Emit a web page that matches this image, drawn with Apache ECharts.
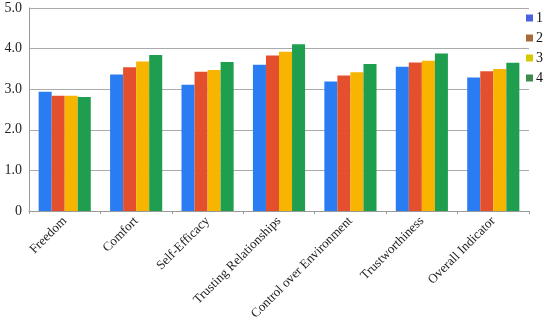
<!DOCTYPE html>
<html><head><meta charset="utf-8">
<script src="https://cdn.jsdelivr.net/npm/echarts@6/dist/echarts.min.js"></script>
<style>html,body{margin:0;padding:0;background:#fff}#c{width:550px;height:325px}</style>
</head><body><div id="c"></div>
<script>
const categories = ['Freedom','Comfort','Self-Efficacy','Trusting Relationships','Control over Environment','Trustworthiness','Overall Indicator'];
const seriesNames = ['1','2','3','4'];
const s1 = [2.94, 3.36, 3.11, 3.60, 3.19, 3.55, 3.29];
const s2 = [2.84, 3.54, 3.43, 3.83, 3.34, 3.66, 3.44];
const s3 = [2.84, 3.68, 3.47, 3.92, 3.42, 3.70, 3.50];
const s4 = [2.81, 3.84, 3.67, 4.11, 3.62, 3.88, 3.65];
const colors = ['#2a7cf2', '#e4502e', '#f7b500', '#1f9e50'];
const legendColors = ['#4a62e0', '#a86a3a', '#d8c800', '#3f8a4e'];

const chart = echarts.init(document.getElementById('c'));
const font = 'Liberation Serif';
const data = [s1, s2, s3, s4];
chart.setOption({
  animation: false,
  textStyle: {fontFamily: font},
  grid: {left: 29, right: 21, top: 8, bottom: 114, containLabel: false},
  legend: {
    orient: 'vertical', right: 2, top: 6, itemWidth: 7, itemHeight: 7, itemGap: 6,
    icon: 'rect',
    textStyle: {fontFamily: font, fontSize: 14, color: '#111', padding: [0,0,0,-2]},
    data: seriesNames.map((n, i) => ({name: n, itemStyle: {color: legendColors[i]}}))
  },
  xAxis: {
    type: 'category', data: categories,
    axisLine: {lineStyle: {color: '#999'}},
    axisTick: {show: true, length: 3, lineStyle: {color: '#999'}},
    axisLabel: {rotate: 45, interval: 0, fontFamily: font, fontSize: 13, color: '#222', margin: 8}
  },
  yAxis: {
    type: 'value', min: 0, max: 5, interval: 1,
    axisLine: {show: true, lineStyle: {color: '#999'}},
    axisTick: {show: false},
    splitLine: {lineStyle: {color: '#aaa'}},
    axisLabel: {fontFamily: font, fontSize: 14, color: '#222', margin: 7,
      formatter: v => v === 0 ? '0' : v.toFixed(1)}
  },
  series: seriesNames.map((n, i) => ({
    name: n, type: 'bar', data: data[i], barGap: '0%', barCategoryGap: '27%',
    itemStyle: {color: colors[i]}
  }))
});
</script></body></html>
